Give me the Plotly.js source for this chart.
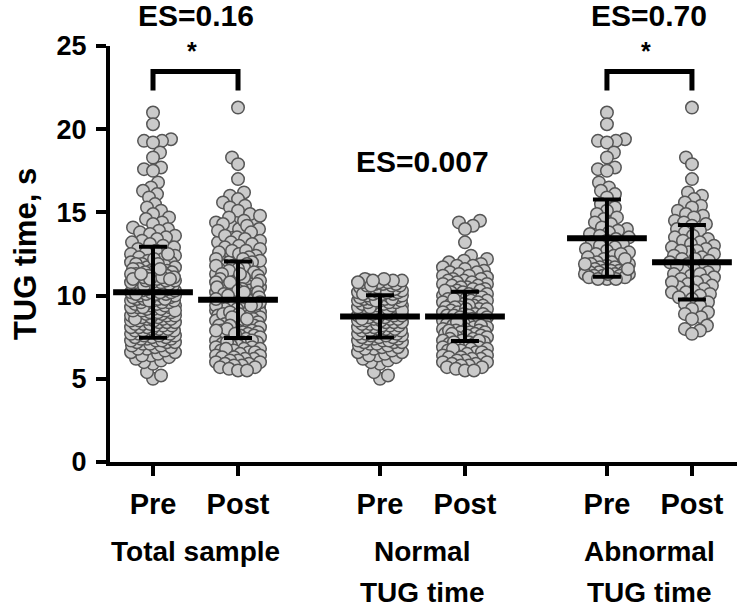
<!DOCTYPE html>
<html>
<head>
<meta charset="utf-8">
<script src="https://cdn.plot.ly/plotly-3.0.1.min.js"></script>
<style>html,body{margin:0;padding:0;background:#fff;}#chart{width:744px;height:611px;}</style>
</head>
<body>
<div id="chart"></div>
<script>
// ---------------- DATA ----------------
const conditions = ['Pre', 'Post'];
const groupNames = ['Total sample', 'Normal TUG time', 'Abnormal TUG time'];
const groupLines = [['Total sample'], ['Normal', 'TUG time'], ['Abnormal', 'TUG time']];

const normalPre = [
  5.0, 5.2, 5.4, 5.9,
  6.0, 6.1, 6.2, 6.3, 6.4, 6.4,
  6.5, 6.6, 6.6, 6.7, 6.8, 6.8, 6.9, 6.9, 7.0,
  7.0, 7.1, 7.1, 7.2, 7.2, 7.2, 7.3, 7.3, 7.3, 7.4, 7.4, 7.4, 7.5, 7.5,
  7.5, 7.6, 7.6, 7.6, 7.7, 7.7, 7.7, 7.8, 7.8, 7.8, 7.9, 7.9, 7.9, 8.0, 8.0,
  8.0, 8.1, 8.1, 8.1, 8.2, 8.2, 8.2, 8.3, 8.3, 8.3, 8.4, 8.4, 8.4, 8.5, 8.5, 8.5,
  8.6, 8.6, 8.6, 8.7, 8.7, 8.7, 8.8, 8.8, 8.8, 8.9, 8.9, 8.9, 8.9, 9.0, 9.0, 9.0, 8.6,
  9.1, 9.1, 9.1, 9.2, 9.2, 9.2, 9.3, 9.3, 9.3, 9.4, 9.4, 9.4, 9.5, 9.5, 9.5, 9.1, 9.3,
  9.6, 9.6, 9.6, 9.7, 9.7, 9.7, 9.8, 9.8, 9.8, 9.9, 9.9, 9.9, 10.0, 10.0, 10.0, 9.7, 9.8,
  10.1, 10.1, 10.1, 10.2, 10.2, 10.2, 10.3, 10.3, 10.3, 10.4, 10.4, 10.4, 10.5, 10.5, 10.5, 10.2, 10.3, 10.1,
  10.6, 10.6, 10.6, 10.7, 10.7, 10.7, 10.8, 10.8, 10.8, 10.9, 10.9, 10.9, 11.0, 11.0, 10.6, 10.8, 10.9
];
const normalPost = [
  14.5, 14.4, 14.2, 14.0, 13.2,
  12.4, 12.2, 12.1, 12.0,
  11.9, 11.8, 11.8, 11.7, 11.6, 11.5,
  11.4, 11.4, 11.3, 11.2, 11.2, 11.1, 11.0, 11.0,
  10.9, 10.9, 10.8, 10.8, 10.7, 10.7, 10.6, 10.6, 10.5, 10.5,
  10.4, 10.4, 10.3, 10.3, 10.2, 10.2, 10.1, 10.1, 10.0, 10.0, 10.3,
  9.9, 9.9, 9.8, 9.8, 9.7, 9.7, 9.6, 9.6, 9.5, 9.5, 9.8, 9.6,
  9.4, 9.4, 9.3, 9.3, 9.3, 9.2, 9.2, 9.1, 9.1, 9.0, 9.0, 9.4, 9.2,
  8.9, 8.9, 8.8, 8.8, 8.8, 8.7, 8.7, 8.6, 8.6, 8.5, 8.5, 8.9, 8.7,
  8.4, 8.4, 8.3, 8.3, 8.3, 8.2, 8.2, 8.1, 8.1, 8.0, 8.0, 8.4, 8.2,
  7.9, 7.9, 7.8, 7.8, 7.8, 7.7, 7.7, 7.6, 7.6, 7.5, 7.5, 7.9, 7.7,
  7.4, 7.4, 7.3, 7.3, 7.2, 7.2, 7.1, 7.1, 7.0, 7.0, 7.3, 7.2,
  6.9, 6.9, 6.8, 6.8, 6.7, 6.7, 6.6, 6.6, 6.5, 6.5, 6.8,
  6.4, 6.4, 6.3, 6.3, 6.2, 6.2, 6.1, 6.1, 6.0, 6.0,
  5.9, 5.9, 5.8, 5.8, 5.7, 5.7, 5.6, 5.5, 5.5
];
const abnormalPre = [
  21.0, 20.3, 19.4, 19.3, 19.3, 19.2, 18.6, 18.3, 17.7, 17.6, 17.5, 16.8, 16.5, 16.3, 16.1, 15.9,
  15.5, 15.3, 15.1, 14.9, 14.7, 14.6, 14.4, 14.3, 14.1, 14.0, 13.9, 13.8,
  13.7, 13.6, 13.5, 13.4, 13.3, 13.2, 13.1, 13.0, 12.9, 12.8, 12.7, 12.6, 12.5, 12.4, 12.3, 12.2, 12.1, 12.0,
  12.0, 11.9, 11.9, 11.8, 11.8, 11.7, 11.7, 11.6, 11.6,
  11.5, 11.5, 11.5, 11.4, 11.4, 11.4, 11.3, 11.3, 11.3, 11.2, 11.2, 11.2, 11.1, 11.1, 11.1, 11.0, 11.0, 11.0,
  12.5, 12.2, 11.9, 11.6, 11.3
];
const abnormalPost = [
  21.3, 18.3, 17.9, 17.0, 16.2, 16.0, 15.8, 15.6, 15.4, 15.3, 15.1,
  14.9, 14.8, 14.7, 14.5,
  14.4, 14.3, 14.2, 14.0,
  13.9, 13.8, 13.6, 13.5,
  13.4, 13.3, 13.2, 13.1, 13.0,
  12.9, 12.8, 12.7, 12.6, 12.5, 12.7,
  12.4, 12.3, 12.2, 12.1, 12.0, 12.2,
  11.9, 11.8, 11.7, 11.6, 11.5, 11.8,
  11.4, 11.3, 11.2, 11.1, 11.0, 11.3,
  10.9, 10.8, 10.7, 10.6, 10.5, 10.8,
  10.4, 10.3, 10.2, 10.1, 10.0, 10.2,
  9.9, 9.8, 9.6, 9.5,
  9.4, 9.2, 9.0,
  8.9, 8.7, 8.6,
  8.2, 8.0,
  7.9, 7.7
];
// Total sample = normal + abnormal participants
const totalPre = normalPre.concat(abnormalPre);
const totalPost = normalPost.concat(abnormalPost);

// Mean and SD shown by the black bars, order: total pre/post, normal pre/post, abnormal pre/post
const meanValues = [10.2, 9.75, 8.75, 8.75, 13.45, 12.0];
const sdValues = [2.73, 2.3, 1.27, 1.48, 2.32, 2.24];

const esLabels = ['ES=0.16', 'ES=0.007', 'ES=0.70'];
const sigLabels = ['*', '', '*'];

// ---------------- LAYOUT / POSITIONS ----------------
const W = 744, H = 611;
const M = {l: 110, r: 7, t: 46, b: 149};
const xRange = [0.494, 7.87];
const yRange = [0, 25];
const groupCenters = [1.5, 4.17, 6.84];
const xPos = [];
groupCenters.forEach(c => { xPos.push(c - 0.5, c + 0.5); });
const pxPerX = (W - M.l - M.r) / (xRange[1] - xRange[0]);
const pxPerY = (H - M.t - M.b) / (yRange[1] - yRange[0]);
const toPaperY = v => (v - yRange[0]) / (yRange[1] - yRange[0]);

const seriesValues = [totalPre, totalPost, normalPre, normalPost, abnormalPre, abnormalPost];

// beeswarm offsets (pixel space), converted back to x units
function swarm(vals) {
  const D = 8.5, maxOff = 22, step = 1;
  const order = vals.map((v, i) => i).sort((a, b) => vals[a] - vals[b]);
  const placed = [];
  const offs = new Array(vals.length).fill(0);
  order.forEach((idx, k) => {
    const y = vals[idx] * pxPerY;
    let chosen = null, bestOff = 0, bestMin = -1;
    const signs = (k % 2) ? [1, -1] : [-1, 1];
    outer:
    for (let m = 0; m <= maxOff; m += step) {
      for (const s of (m === 0 ? [1] : signs)) {
        const off = s * m;
        let minD = Infinity;
        for (const p of placed) {
          if (Math.abs(p.y - y) < D) {
            const d = Math.hypot(p.x - off, p.y - y);
            if (d < minD) minD = d;
          }
        }
        if (minD >= D) { chosen = off; break outer; }
        if (minD > bestMin + 0.01) { bestMin = minD; bestOff = off; }
      }
    }
    if (chosen === null) chosen = bestOff;
    placed.push({x: chosen, y: y});
    offs[idx] = chosen / pxPerX;
  });
  return offs;
}

const traces = [];
seriesValues.forEach((vals, i) => {
  const offs = swarm(vals);
  traces.push({
    type: 'scatter', mode: 'markers',
    x: vals.map((v, j) => xPos[i] + offs[j]),
    y: vals,
    marker: {size: 12.5, color: '#cacaca', line: {color: '#555555', width: 1.5}},
    hoverinfo: 'y', showlegend: false, cliponaxis: false
  });
});

// mean ± SD
traces.push({
  type: 'scatter', mode: 'markers',
  x: xPos, y: meanValues,
  error_y: {type: 'data', array: sdValues, visible: true, color: '#000', thickness: 4, width: 14},
  marker: {symbol: 'line-ew', size: 57, color: '#000', line: {color: '#000', width: 6}},
  showlegend: false, hoverinfo: 'y', cliponaxis: false
});

// significance brackets
const bracketTop = 23.47, bracketBottom = 22.33;
sigLabels.forEach((s, g) => {
  if (!s) return;
  const a = xPos[2 * g], b = xPos[2 * g + 1];
  traces.push({
    type: 'scatter', mode: 'lines',
    x: [a, a, b, b], y: [bracketBottom, bracketTop, bracketTop, bracketBottom],
    line: {color: '#000', width: 5}, showlegend: false, hoverinfo: 'skip', cliponaxis: false
  });
});

const FONT = 'Liberation Sans, Arial, Helvetica, sans-serif';
const annotations = [];
const esY = [26.83, 18.07, 26.83];
esLabels.forEach((t, g) => {
  annotations.push({x: groupCenters[g], y: toPaperY(esY[g]), xref: 'x', yref: 'paper', text: t, showarrow: false,
    xanchor: 'center', yanchor: 'middle', font: {family: FONT, size: 30, color: '#000', weight: 'bold'}});
});
sigLabels.forEach((s, g) => {
  if (!s) return;
  annotations.push({x: groupCenters[g] - 0.04, y: toPaperY(24.7), xref: 'x', yref: 'paper', text: s, showarrow: false,
    xanchor: 'center', yanchor: 'middle', font: {family: FONT, size: 25, color: '#000', weight: 'bold'}});
});
groupLines.forEach((lines, g) => {
  lines.forEach((t, k) => {
    annotations.push({x: groupCenters[g], y: 0, xref: 'x', yref: 'paper', text: t, showarrow: false,
      xanchor: 'center', yanchor: 'middle', yshift: -(89 + 41 * k),
      font: {family: FONT, size: 28, color: '#000', weight: 'bold'}});
  });
});

const axisCommon = {
  showline: true, linewidth: 4, linecolor: '#000', ticks: 'outside', ticklen: 10, tickwidth: 4, tickcolor: '#000',
  showgrid: false, zeroline: false, fixedrange: true
};
const layout = {
  width: W, height: H, margin: M, paper_bgcolor: '#fff', plot_bgcolor: '#fff',
  font: {family: FONT, color: '#000'},
  showlegend: false,
  xaxis: Object.assign({}, axisCommon, {
    range: xRange, tickmode: 'array', tickvals: xPos,
    ticktext: xPos.map((_, i) => conditions[i % 2]),
    tickfont: {family: FONT, size: 29, color: '#000', weight: 'bold'}, ticklabelstandoff: 3
  }),
  yaxis: Object.assign({}, axisCommon, {
    range: yRange, tickmode: 'array', tickvals: [0, 5, 10, 15, 20, 25],
    tickfont: {family: FONT, size: 27, color: '#000', weight: 'bold'}, ticklabelstandoff: 4,
    title: {text: 'TUG time, s', font: {family: FONT, size: 31, color: '#000', weight: 'bold'}, standoff: 12}
  }),
  annotations: annotations
};

Plotly.newPlot('chart', traces, layout, {displayModeBar: false, staticPlot: true});
</script>
</body>
</html>
